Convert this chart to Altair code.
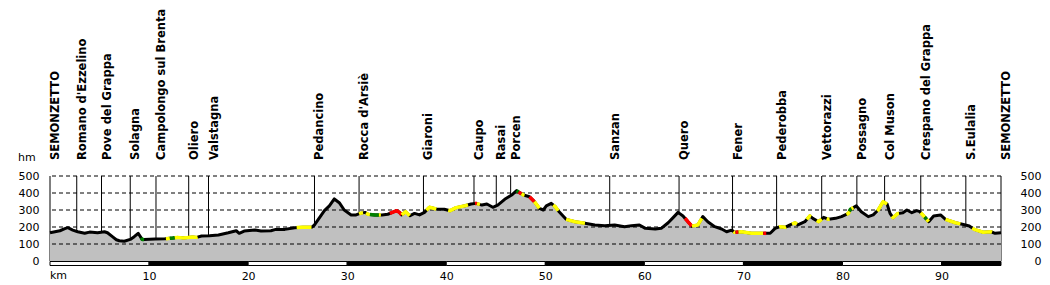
import altair as alt
import pandas as pd
import numpy as np

# ---------------- data ----------------
km = [0.0, 0.5, 1.0, 1.5, 1.8, 2.3, 2.8, 3.5, 4.0, 4.8, 5.5, 5.8, 6.3, 6.7, 7.0, 7.5, 8.1, 8.5, 8.9, 9.3,
      9.5, 10.6, 11.6, 12.4, 12.9, 13.4, 13.9, 14.4, 14.8, 15.3, 16.1, 17.0, 18.0, 18.8, 19.1, 19.6, 20.7,
      21.3, 22.3, 22.8, 23.7, 24.7, 25.5, 26.4, 26.7, 27.7, 28.2, 28.7, 29.2, 29.7, 30.4, 30.9, 31.3, 31.8,
      32.1, 32.8, 33.5, 34.1, 34.5, 35.0, 35.3, 35.5, 35.9, 36.3, 36.8, 37.3, 37.8, 38.3, 39.0, 39.8, 40.4,
      41.0, 41.9, 42.5, 43.0, 43.6, 44.1, 44.7, 45.2, 45.9, 46.6, 47.1, 47.4, 47.8, 48.4, 48.9, 49.4, 49.8,
      50.1, 50.6, 51.0, 51.3, 52.1, 53.0, 54.0, 55.0, 56.0, 57.0, 58.0, 58.7, 59.5, 60.1, 61.1, 61.7, 62.4,
      62.9, 63.4, 63.9, 64.4, 64.8, 65.4, 65.9, 66.4, 67.1, 67.8, 68.3, 68.8, 69.1, 69.8, 70.8, 72.0, 72.7,
      73.2, 73.7, 74.2, 74.7, 75.2, 75.5, 76.2, 76.7, 77.0, 77.6, 78.1, 78.6, 79.3, 79.9, 80.6, 80.8, 81.4,
      81.9, 82.6, 83.1, 83.6, 84.1, 84.5, 84.8, 85.1, 85.6, 86.1, 86.5, 87.0, 87.5, 87.8, 88.2, 88.7, 89.2,
      89.9, 90.4, 91.4, 92.1, 92.8, 93.3, 94.2, 95.0, 95.4, 96.0]
elev = [166, 172, 178, 190, 196, 182, 172, 163, 170, 166, 172, 166, 143, 125, 119, 116, 127, 143, 163, 127,
        127, 129, 131, 135, 139, 136, 138, 141, 139, 147, 149, 153, 166, 178, 163, 176, 182,
        176, 178, 186, 186, 196, 199, 198, 212, 296, 324, 365, 343, 300, 271, 271, 280, 286,
        275, 271, 271, 275, 285, 296, 285, 271, 290, 266, 280, 271, 286, 316, 306, 304, 296,
        314, 325, 335, 339, 329, 335, 316, 329, 363, 388, 414, 402, 388, 378, 349, 310, 300,
        324, 339, 320, 296, 245, 231, 222, 212, 208, 212, 202, 208, 212, 192, 188, 192, 225,
        255, 286, 265, 231, 205, 212, 261, 231, 202, 188, 172, 182, 169, 172, 163, 163, 163,
        192, 202, 198, 212, 225, 212, 231, 265, 251, 231, 257, 245, 251, 261, 280, 304, 324,
        290, 261, 271, 300, 349, 335, 280, 255, 280, 284, 300, 284, 296, 290, 265, 231, 265,
        271, 245, 225, 216, 206, 186, 169, 172, 163, 166]

place_names = ["SEMONZETTO", "Romano d'Ezzelino", "Pove del Grappa", "Solagna", "Campolongo sul Brenta",
               "Oliero", "Valstagna", "Pedancino", "Rocca d'Arsiè", "Giaroni", "Caupo", "Rasai", "Porcen",
               "Sanzan", "Quero", "Fener", "Pederobba", "Vettorazzi", "Possagno", "Col Muson",
               "Crespano del Grappa", "S.Eulalia", "SEMONZETTO"]
place_km = [0.0, 2.7, 5.2, 8.1, 10.7, 14.0, 16.0, 26.7, 31.2, 37.7, 42.8, 45.05, 46.5, 56.5, 63.5,
            68.9, 73.35, 77.9, 81.45, 84.25, 87.9, 92.45, 96.0]

# gradient-coloured stretches of the profile line
col_start = [9.2, 11.7, 12.1, 12.6, 24.9, 31.2, 31.9, 32.3, 33.2, 34.3, 35.5, 38.0, 40.2, 42.9, 43.1,
             47.1, 47.3, 47.6, 48.4, 48.9, 50.8, 52.1, 64.1, 64.8, 69.0, 69.2, 69.5, 72.0, 73.6, 74.9,
             76.4, 77.4, 78.4, 80.4, 80.7, 80.9, 83.5, 85.0, 87.9, 88.3, 88.5, 90.4, 93.1]
col_end = [9.5, 12.1, 12.6, 14.9, 26.4, 31.6, 32.3, 33.2, 33.4, 35.5, 36.3, 39.0, 42.2, 43.1, 43.4,
           47.3, 47.6, 47.9, 48.9, 49.4, 51.3, 54.0, 64.8, 65.8, 69.2, 69.5, 72.0, 72.3, 74.3, 75.4,
           76.8, 77.9, 78.7, 80.7, 80.9, 81.1, 84.5, 85.7, 88.3, 88.5, 88.7, 91.9, 95.1]
col_code = ["g", "y", "g", "y", "y", "y", "y", "g", "y", "r", "y", "y", "y", "r", "y",
            "g", "r", "y", "r", "y", "y", "y", "r", "y", "y", "r", "y", "r", "y", "y",
            "y", "y", "y", "y", "g", "y", "y", "y", "y", "g", "y", "y", "y"]

grid_values = [100, 200, 300, 400, 500]
hm_ticks = [0, 100, 200, 300, 400, 500]
km_ticks = [10, 20, 30, 40, 50, 60, 70, 80, 90]
bar_start = [0, 10, 20, 30, 40, 50, 60, 70, 80, 90]
bar_end = [10, 20, 30, 40, 50, 60, 70, 80, 90, 96]
bar_fill = ["white", "black", "white", "black", "white", "black", "white", "black", "white", "black"]

# ---------------- build tables ----------------
W, H = 951, 85
FONT = "DejaVu Sans"

prof = pd.DataFrame({"km": km, "elev": elev})
places = pd.DataFrame({"km": place_km, "name": place_names})
grid = pd.DataFrame({"v": grid_values})
bars = pd.DataFrame({"s": bar_start, "e": bar_end, "f": bar_fill})

rows = []
for i, (a, b, c) in enumerate(zip(col_start, col_end, col_code)):
    rows.append({"km": a, "elev": float(np.interp(a, km, elev)), "seg": i, "c": c})
    for k, e in zip(km, elev):
        if a < k < b:
            rows.append({"km": k, "elev": e, "seg": i, "c": c})
    rows.append({"km": b, "elev": float(np.interp(b, km, elev)), "seg": i, "c": c})
colored = pd.DataFrame(rows)

xs = alt.Scale(domain=[0, 96], nice=False, zero=False)
ys = alt.Scale(domain=[0, 500], nice=False)

x_axis = alt.Axis(values=km_ticks, domain=False, ticks=False, grid=False, labelFont=FONT,
                  labelFontSize=11, labelColor="black", labelPadding=15, labelBaseline="middle",
                  labelFlush=False, labelOverlap=False, title=None)
X = alt.X("km:Q", scale=xs, axis=x_axis)

left_axis = alt.Axis(values=hm_ticks, domain=False, ticks=False, grid=False, labelFont=FONT,
                     labelFontSize=11, labelColor="black", labelPadding=11, orient="left",
                     labelFlush=False, title=None)
right_axis = alt.Axis(values=hm_ticks, domain=False, ticks=False, grid=False, labelFont=FONT,
                      labelFontSize=11, labelColor="black", labelPadding=40, labelAlign="right",
                      orient="right", labelFlush=False, title=None)

place_rules = alt.Chart(places).mark_rule(color="black", strokeWidth=1).encode(
    x=X, y=alt.value(0), y2=alt.value(H))

area = alt.Chart(prof).mark_area(color="#C0C0C0", opacity=1).encode(
    x=X, y=alt.Y("elev:Q", scale=ys, axis=left_axis))

grid_rules = alt.Chart(grid).mark_rule(color="black", strokeWidth=1, strokeDash=[4, 3]).encode(
    y=alt.Y("v:Q", scale=ys, axis=right_axis))

line = alt.Chart(prof).mark_line(color="black", strokeWidth=3, strokeJoin="round").encode(
    x=X, y=alt.Y("elev:Q", scale=ys, axis=None))

col_line = alt.Chart(colored).mark_line(strokeWidth=3.5, strokeJoin="round").encode(
    x=X, y=alt.Y("elev:Q", scale=ys, axis=None), detail="seg:N",
    color=alt.Color("c:N", scale=alt.Scale(domain=["y", "r", "g"],
                                           range=["#FFFF00", "#FF0000", "#008000"]), legend=None))

bar = alt.Chart(bars).mark_rect(stroke="black", strokeWidth=1).encode(
    x=alt.X("s:Q", scale=xs, axis=x_axis), x2="e:Q",
    y=alt.value(H + 0.5), y2=alt.value(H + 4.5), fill=alt.Fill("f:N", scale=None))

labels = alt.Chart(places).mark_text(angle=270, align="left", baseline="top", font=FONT,
                                     fontSize=11.5, fontWeight="bold", color="black").encode(
    x=X, y=alt.value(-16), text="name:N")

km_text = alt.Chart(pd.DataFrame({"km": [0], "t": ["km"]})).mark_text(
    align="left", baseline="middle", font=FONT, fontSize=11, color="black").encode(
    x=X, y=alt.value(H + 15), text="t:N")

hm_text = alt.Chart(pd.DataFrame({"t": ["hm"]})).mark_text(
    align="left", baseline="middle", font=FONT, fontSize=11, color="black").encode(
    x=alt.value(-32), y=alt.value(-18), text="t:N")

chart = alt.layer(place_rules, area, grid_rules, line, col_line, bar, labels, km_text, hm_text).resolve_axis(
    y="independent").properties(
    width=W, height=H,
    autosize=alt.AutoSizeParams(type="none"),
    padding={"left": 50, "top": 176, "right": 49, "bottom": 24},
    background="white",
).configure_view(stroke=None)

chart.save("out.html", embed_options={"renderer": "svg", "actions": False})
